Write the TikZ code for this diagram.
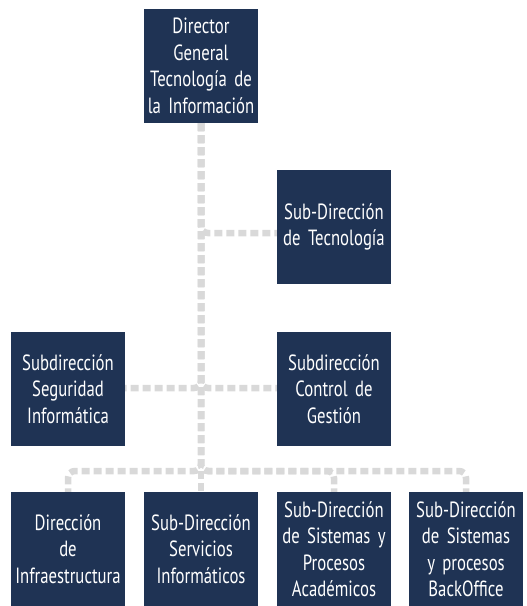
\documentclass[tikz,border=0pt]{standalone}
\usepackage{fontspec}
\setmainfont{PT Sans}[FakeStretch=0.76]
\definecolor{boxblue}{RGB}{31,51,84}
\definecolor{conngray}{RGB}{217,217,217}
\newcommand{\orgfont}{\fontsize{22pt}{26.5pt}\selectfont\spaceskip=3.2pt plus 1pt minus 1pt\relax}
\tikzset{
  orgbox/.style={fill=boxblue, text=white, minimum width=114pt, minimum height=114pt,
    inner sep=0pt, text width=112pt, align=center, font=\orgfont},
  conn/.style={draw=conngray, line width=6.5pt, dash pattern=on 8pt off 4pt, rounded corners=7pt}
}
\begin{document}
\begin{tikzpicture}[x=1pt,y=-1pt]
\useasboundingbox (0,0) rectangle (527,606);
\node[orgbox] (top) at (201,66) {Director\\General\\Tecnología de\\la Información};
\node[orgbox] (tec) at (334,227) {Sub-Dirección\\de Tecnología};
\node[orgbox] (seg) at (68,389) {Subdirección\\Seguridad\\Informática};
\node[orgbox] (ctl) at (334,389) {Subdirección\\Control de\\Gestión};
\node[orgbox] (b1) at (68,549) {Dirección\\de\\Infraestructura};
\node[orgbox] (b2) at (201,549) {Sub-Dirección\\Servicios\\Informáticos};
\node[orgbox] (b3) at (334,549) {Sub-Dirección\\de Sistemas y\\Procesos\\Académicos};
\node[orgbox] (b4) at (466,549) {Sub-Dirección\\de Sistemas\\y procesos\\BackOffice};
\coordinate (bus) at (0,471);
\coordinate (jt) at (0,233);
\coordinate (jm) at (0,388);
\draw[conn] (top.south) -- (top.south |- jt) -- (tec.west |- jt);
\draw[conn] (top.south) -- (top.south |- jm) -- (seg.east |- jm);
\draw[conn] (top.south) -- (top.south |- jm) -- (ctl.west |- jm);
\draw[conn] (top.south) -- (top.south |- bus) -| (b1.north);
\draw[conn] (top.south) -- (b2.north);
\draw[conn] (top.south) -- (top.south |- bus) -| (b3.north);
\draw[conn] (top.south) -- (top.south |- bus) -| (b4.north);
\end{tikzpicture}
\end{document}
